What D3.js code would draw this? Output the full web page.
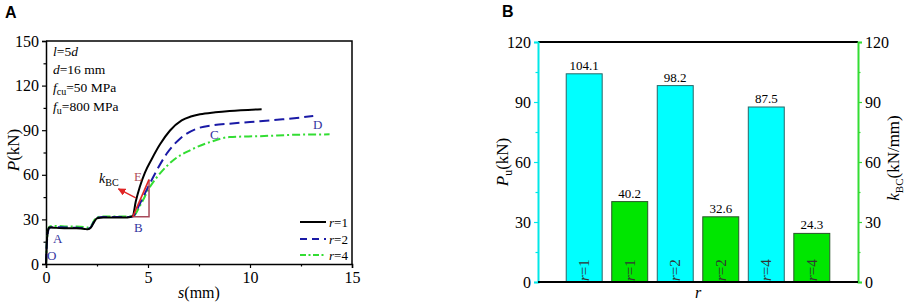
<!DOCTYPE html>
<html><head><meta charset="utf-8">
<script src="https://cdn.jsdelivr.net/npm/d3@7"></script>
<style>
html,body{margin:0;padding:0;background:#fff;}
svg{display:block;font-family:"Liberation Serif","Times New Roman",serif;}
</style></head>
<body><svg id="c" width="906" height="305"></svg>
<script>
// ---------- Panel A data: load–slip curves ----------
const sR1 = [0,0.03,0.08,0.15,0.25,0.5,1.0,1.5,1.9,2.05,2.2,2.35,2.5,2.8,3.5,4.0,4.25,4.4,4.6,4.85,5.18,5.59,6.08,6.65,7.1,7.55,8.3,9.0,10.57];
const pR1 = [0,12,21,24.5,24.6,24.3,24.1,24.0,23.6,23.3,24.5,28,30.8,31.3,31.3,31.3,32.2,42,52,61.5,70.5,80.5,89.8,96.6,99.2,100.7,102,102.9,104.1];
const sR2 = [0,0.03,0.08,0.15,0.25,0.5,1.0,1.5,1.9,2.05,2.2,2.35,2.5,2.8,3.5,4.0,4.25,4.6,4.94,5.43,5.92,6.57,7.39,8.2,9.0,10.0,11.6,13.1];
const pR2 = [0,11,20,24,24.8,24.8,24.5,24.4,24,23.7,24.8,28.5,31,31.6,31.6,31.6,32,40.5,50,63,74.3,84.3,91,93.3,94.4,95.5,97.3,99.5];
const sR4 = [0,0.03,0.08,0.15,0.25,0.5,1.0,1.5,1.9,2.05,2.2,2.35,2.5,2.8,3.5,4.0,4.3,4.6,5.1,5.59,6.24,7.06,8.04,9.0,10.5,12.45,13.9];
const pR4 = [0,11,21,24.8,25.5,25.6,25.3,25.2,24.8,24.5,25.5,29,31.5,32,32,32,32.5,39,51.9,60.9,69.8,76.5,82,85.4,86,87,87.2];
const curveNames = ["r=1","r=2","r=4"];
const xTicksA = [0,5,10,15];
const yTicksA = [0,30,60,90,120,150];
// triangle for k_BC (s, P)
const triS = [4.25,5.05,5.05];
const triP = [31.7,31.7,56.8];

// ---------- Panel B data ----------
const groups = ["r=1","r=2","r=4"];
const Pu = [104.1,98.2,87.5];
const kBC = [40.2,32.6,24.3];
const yTicksB = [0,30,60,90,120];

const svg = d3.select("#c");
const FONT = '"Liberation Serif","Times New Roman",serif';
const BLUE = "#1a1aa6", GREEN = "#33dd33", LBL = "#3535a0";

// ================= PANEL A =================
const xA = d3.scaleLinear().domain([0,15]).range([46,352]);
const yA = d3.scaleLinear().domain([0,150]).range([264,41]);
const gA = svg.append("g");

gA.append("path").attr("d",`M${xA(0)},${yA(150)}H${xA(15)}V${yA(0)}`)
  .attr("fill","none").attr("stroke","#000").attr("stroke-width",1.5);

function styleAxis(g, color){
  g.select(".domain").attr("stroke",color).attr("stroke-width",1.5);
  g.selectAll(".tick line").attr("stroke",color).attr("stroke-width",1.2);
  g.selectAll("text").attr("fill","#000").style("font-family",FONT).style("font-size","16px");
}
const axLA = gA.append("g").attr("transform",`translate(${xA(0)},0)`)
  .call(d3.axisLeft(yA).tickValues(yTicksA).tickSize(4).tickPadding(3).tickFormat(d3.format("d")));
styleAxis(axLA,"#000");
const axLAm = gA.append("g").attr("transform",`translate(${xA(0)},0)`)
  .call(d3.axisLeft(yA).tickValues([15,45,75,105,135]).tickSize(2.5).tickFormat(""));
styleAxis(axLAm,"#000"); axLAm.select(".domain").remove();
const axBA = gA.append("g").attr("transform",`translate(0,${yA(0)})`)
  .call(d3.axisBottom(xA).tickValues(xTicksA).tickSize(4).tickPadding(4).tickFormat(d3.format("d")));
styleAxis(axBA,"#000");
const axBAm = gA.append("g").attr("transform",`translate(0,${yA(0)})`)
  .call(d3.axisBottom(xA).tickValues([2.5,7.5,12.5]).tickSize(2.5).tickFormat(""));
styleAxis(axBAm,"#000"); axBAm.select(".domain").remove();

const lineA = d3.line().x(d=>xA(d[0])).y(d=>yA(d[1])).curve(d3.curveMonotoneX);
const series = [
  {name:curveNames[0], s:sR1, p:pR1, color:"#000", dash:null},
  {name:curveNames[1], s:sR2, p:pR2, color:BLUE, dash:"10,5"},
  {name:curveNames[2], s:sR4, p:pR4, color:GREEN, dash:"8,3,2,3"}
];
[2,1,0].forEach(i=>{
  const sr = series[i];
  gA.append("path").datum(sr.s.map((s,j)=>[s,sr.p[j]]))
    .attr("d",lineA).attr("fill","none").attr("stroke",sr.color)
    .attr("stroke-width",2).attr("stroke-dasharray",sr.dash);
});

// triangle and k_BC
const tri = triS.map((s,i)=>[xA(s),yA(triP[i])]);
gA.append("path").attr("d",`M${tri[0]}L${tri[1]}L${tri[2]}`)
  .attr("fill","none").attr("stroke","#a84a5a").attr("stroke-width",1.5);
gA.append("line").attr("x1",tri[0][0]).attr("y1",tri[0][1]).attr("x2",tri[2][0]).attr("y2",tri[2][1])
  .attr("stroke","#e02525").attr("stroke-width",1.6);
svg.append("defs").append("marker").attr("id","ah").attr("viewBox","0 0 10 10")
  .attr("refX",9).attr("refY",5).attr("markerWidth",6).attr("markerHeight",6).attr("orient","auto")
  .append("path").attr("d","M0,0L10,5L0,10Z").attr("fill","#e02525");
gA.append("line").attr("x1",xA(4.4)).attr("y1",yA(44.5)).attr("x2",xA(3.55)).attr("y2",yA(50.5))
  .attr("stroke","#e02525").attr("stroke-width",1.3).attr("marker-end","url(#ah)");

const ptLabels = [
  {t:"O", s:0.05, p:2.7, c:LBL},
  {t:"A", s:0.34, p:14.1, c:LBL},
  {t:"B", s:4.31, p:21.5, c:LBL},
  {t:"C", s:8.04, p:83.9, c:LBL},
  {t:"D", s:13.09, p:90.6, c:LBL},
  {t:"E", s:4.31, p:55.7, c:"#b0505a"}
];
ptLabels.forEach(l=>{
  gA.append("text").attr("x",xA(l.s)).attr("y",yA(l.p)).text(l.t)
    .attr("fill",l.c).style("font-size","13px");
});
const kt = gA.append("text").attr("x",xA(2.6)).attr("y",yA(54.4)).style("font-size","14px").attr("fill","#000");
kt.append("tspan").text("k").style("font-style","italic");
kt.append("tspan").text("BC").attr("dy",3).style("font-size","10px");

const notes = gA.append("g").style("font-size","13.5px");
function note(y, parts){
  const t = notes.append("text").attr("x",53).attr("y",y);
  parts.forEach(p=>{
    const ts = t.append("tspan").text(p.t);
    if(p.i) ts.style("font-style","italic");
    if(p.sub){ ts.attr("dy",3).style("font-size","10px"); }
    if(p.up) ts.attr("dy",-3);
  });
}
note(56,[{t:"l",i:1},{t:"=5"},{t:"d",i:1}]);
note(74,[{t:"d",i:1},{t:"=16 mm"}]);
note(92,[{t:"f",i:1},{t:"cu",sub:1},{t:"=50 MPa",up:1}]);
note(111,[{t:"f",i:1},{t:"u",sub:1},{t:"=800 MPa",up:1}]);

const legY = [222,239,255];
series.forEach((sr,i)=>{
  gA.append("line").attr("x1",300).attr("x2",326).attr("y1",legY[i]).attr("y2",legY[i])
    .attr("stroke",sr.color).attr("stroke-width",2).attr("stroke-dasharray",sr.dash ? (i===1?"7,5":"6,2.5,2,2.5") : null);
  const t = gA.append("text").attr("x",329).attr("y",legY[i]+4.5).style("font-size","13px");
  t.append("tspan").text("r").style("font-style","italic");
  t.append("tspan").text(sr.name.slice(1));
});

const yt = gA.append("text").attr("transform",`translate(19,150) rotate(-90)`).attr("text-anchor","middle").style("font-size","17px");
yt.append("tspan").text("P").style("font-style","italic");
yt.append("tspan").text("(kN)");
const xt = gA.append("text").attr("x",(xA(0)+xA(15))/2).attr("y",298).attr("text-anchor","middle").style("font-size","16px");
xt.append("tspan").text("s").style("font-style","italic");
xt.append("tspan").text("(mm)");

svg.append("text").attr("x",5).attr("y",18).text("A")
  .style("font-family","'Liberation Sans',Arial,sans-serif").style("font-weight","bold").style("font-size","16px");

// ================= PANEL B =================
const L = 538, R = 858;
const yL = d3.scaleLinear().domain([0,120]).range([282,42]);
const yR = d3.scaleLinear().domain([0,120]).range([282,42]);
const bars = [];
groups.forEach((g,i)=>{
  bars.push({key:g+"P", label:g, v:Pu[i], type:"P"});
  bars.push({key:g+"k", label:g, v:kBC[i], type:"k"});
});
const xB = d3.scaleBand().domain(bars.map(d=>d.key)).range([L,R]).paddingInner(0.21).paddingOuter(0.62);
const gB = svg.append("g");
const CYAN = "#00ffff", BGREEN = "#00e600";

gB.selectAll("rect.bar").data(bars).join("rect")
  .attr("x",d=>xB(d.key)).attr("width",xB.bandwidth())
  .attr("y",d=> d.type==="P" ? yL(d.v) : yR(d.v))
  .attr("height",d=> d.type==="P" ? yL(0)-yL(d.v) : yR(0)-yR(d.v))
  .attr("fill",d=> d.type==="P" ? CYAN : BGREEN)
  .attr("stroke",d=> d.type==="P" ? "#2a6666" : "#2a552a").attr("stroke-width",1);

gB.selectAll("text.val").data(bars).join("text")
  .attr("x",d=>xB(d.key)+xB.bandwidth()/2)
  .attr("y",d=>(d.type==="P"?yL(d.v):yR(d.v))-4)
  .attr("text-anchor","middle").style("font-size","13px")
  .text(d=>d3.format(".1f")(d.v));

bars.forEach(d=>{
  const cx = xB(d.key)+xB.bandwidth()/2;
  const t = gB.append("text").attr("transform",`translate(${cx+5},${yL(0)-1}) rotate(-90)`)
    .style("font-size","15px").attr("fill","#333");
  t.append("tspan").text("r").style("font-style","italic");
  t.append("tspan").text(d.label.slice(1));
});

gB.append("line").attr("x1",L).attr("x2",R).attr("y1",yL(120)).attr("y2",yL(120))
  .attr("stroke","#000").attr("stroke-width",2);
const axLB = gB.append("g").attr("transform",`translate(${L},0)`)
  .call(d3.axisLeft(yL).tickValues(yTicksB).tickSize(4).tickPadding(3).tickFormat(d3.format("d")));
styleAxis(axLB,"#00e8e8"); axLB.select(".domain").attr("stroke-width",2);
const axLBm = gB.append("g").attr("transform",`translate(${L},0)`)
  .call(d3.axisLeft(yL).tickValues([15,45,75,105]).tickSize(2.5).tickFormat(""));
styleAxis(axLBm,"#00e8e8"); axLBm.select(".domain").remove();
const axRB = gB.append("g").attr("transform",`translate(${R},0)`)
  .call(d3.axisRight(yR).tickValues(yTicksB).tickSize(4).tickPadding(3).tickFormat(d3.format("d")));
styleAxis(axRB,"#33dd33"); axRB.select(".domain").attr("stroke-width",2);
const axRBm = gB.append("g").attr("transform",`translate(${R},0)`)
  .call(d3.axisRight(yR).tickValues([15,45,75,105]).tickSize(2.5).tickFormat(""));
styleAxis(axRBm,"#33dd33"); axRBm.select(".domain").remove();
gB.append("line").attr("x1",L).attr("x2",R).attr("y1",yL(0)).attr("y2",yL(0))
  .attr("stroke","#000").attr("stroke-width",2);

const pl = gB.append("text").attr("transform",`translate(508,162) rotate(-90)`).attr("text-anchor","middle").style("font-size","17px");
pl.append("tspan").text("P").style("font-style","italic");
pl.append("tspan").text("u").attr("dy",4).style("font-size","12px");
pl.append("tspan").text("(kN)").attr("dy",-4);
const kl = gB.append("text").attr("transform",`translate(899,158) rotate(-90)`).attr("text-anchor","middle").style("font-size","17px");
kl.append("tspan").text("k").style("font-style","italic");
kl.append("tspan").text("BC").attr("dy",4).style("font-size","11px");
kl.append("tspan").text("(kN/mm)").attr("dy",-4);
gB.append("text").attr("x",(L+R)/2).attr("y",298).attr("text-anchor","middle")
  .style("font-size","16px").style("font-style","italic").text("r");

svg.append("text").attr("x",502).attr("y",17).text("B")
  .style("font-family","'Liberation Sans',Arial,sans-serif").style("font-weight","bold").style("font-size","16px");
</script></body></html>
